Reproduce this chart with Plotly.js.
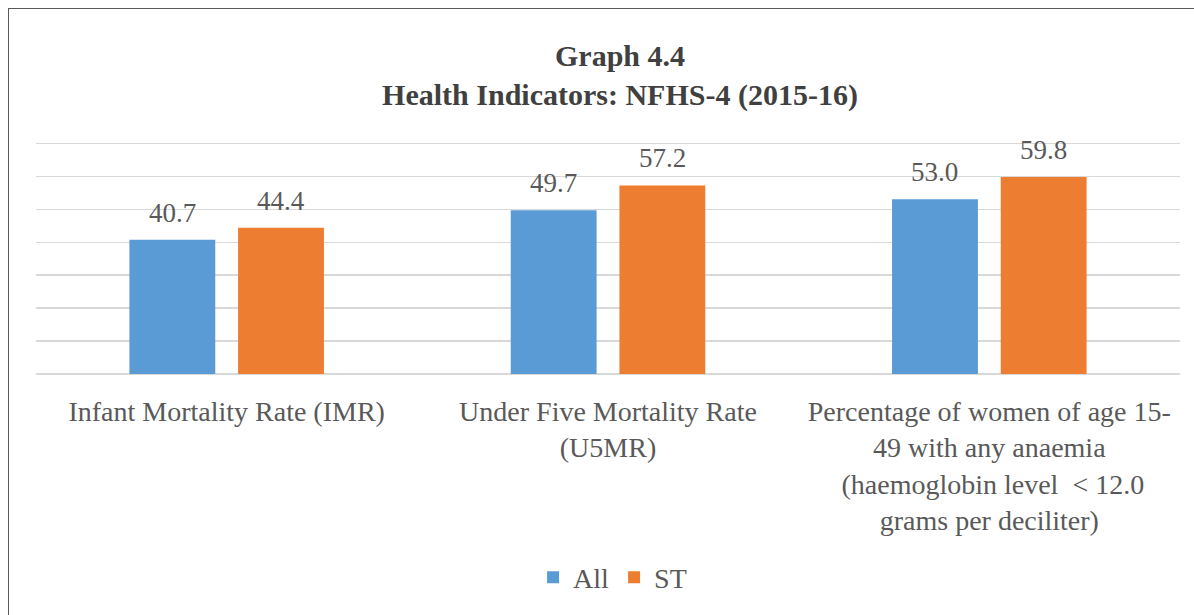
<!DOCTYPE html>
<html>
<head>
<meta charset="utf-8">
<script src="https://cdn.plot.ly/plotly-3.0.1.min.js"></script>
<style>
  html, body { margin: 0; padding: 0; background: #ffffff; }
  #chart { position: absolute; left: 0; top: 0; width: 1194px; height: 615px; }
  #frame { position: absolute; left: 8px; top: 8px; width: 1300px; height: 800px;
           border-left: 1px solid #595959; border-top: 1px solid #595959;
           pointer-events: none; }
</style>
</head>
<body>
<div id="chart"></div>
<div id="frame"></div>
<script>
const categories = [
  "Infant Mortality Rate (IMR)",
  "Under Five Mortality Rate<br>(U5MR)",
  "Percentage of women of age 15-<br>49 with any anaemia<br> (haemoglobin level  &lt; 12.0<br>grams per deciliter)"
];
const seriesNames = ["All", "ST"];
const allValues = [40.7, 49.7, 53.0];
const stValues = [44.4, 57.2, 59.8];
const yTicks = [0, 10, 20, 30, 40, 50, 60, 70];

const FONT = "Liberation Serif";
const GREY = "#595959";
const BARGAP = 0.43;
const BARGROUPGAP = 0.21;

const traces = [
  {
    type: "bar", name: seriesNames[0], x: categories, y: allValues,
    marker: { color: "#5B9BD5" }, textposition: "none", hoverinfo: "x+y"
  },
  {
    type: "bar", name: seriesNames[1], x: categories, y: stValues,
    marker: { color: "#ED7D31" }, textposition: "none", hoverinfo: "x+y"
  }
];

// value labels placed above each bar, at the bar's group offset on the category axis
const slotOffset = (1 - BARGAP) / 4;
const labelFont = { family: FONT, size: 27, color: GREY };
const annotations = [];
[allValues, stValues].forEach((vals, t) => {
  vals.forEach((v, i) => {
    annotations.push({
      xref: "x", yref: "y", x: i + (t === 0 ? -slotOffset : slotOffset), y: v,
      text: v.toFixed(1), showarrow: false, xanchor: "center", yanchor: "bottom",
      yshift: 10, font: labelFont
    });
  });
});

const layout = {
  width: 1194, height: 615,
  paper_bgcolor: "rgba(255,255,255,0)", plot_bgcolor: "rgba(0,0,0,0)",
  margin: { l: 36, r: 14, t: 140, b: 238, pad: 0 },
  font: { family: FONT, color: GREY },
  title: {
    text: "<b>Graph 4.4<br>Health Indicators: NFHS-4 (2015-16)</b>",
    font: { family: FONT, size: 30, color: "#404040" },
    xref: "paper", x: 0.5105, xanchor: "center",
    yref: "container", y: 0.893, yanchor: "top"
  },
  barmode: "group", bargap: BARGAP, bargroupgap: BARGROUPGAP,
  xaxis: {
    type: "category",
    tickfont: { family: FONT, size: 28, color: GREY },
    showgrid: false, showline: false, ticks: "", automargin: false,
    ticklabelstandoff: 18
  },
  yaxis: {
    range: [0, 71], tickvals: yTicks, showticklabels: false,
    showgrid: true, gridcolor: "#D9D9D9", gridwidth: 1.3,
    zeroline: true, zerolinecolor: "#D9D9D9", zerolinewidth: 1.5,
    showline: false, ticks: "", automargin: false
  },
  annotations: annotations,
  showlegend: true,
  legend: {
    orientation: "h", x: 0.504, xanchor: "center", y: -0.87, yanchor: "middle",
    font: { family: FONT, size: 28, color: GREY },
    itemwidth: 30, tracegroupgap: 0, bgcolor: "rgba(0,0,0,0)"
  }
};

Plotly.newPlot("chart", traces, layout, { displayModeBar: false, staticPlot: true });
</script>
</body>
</html>
